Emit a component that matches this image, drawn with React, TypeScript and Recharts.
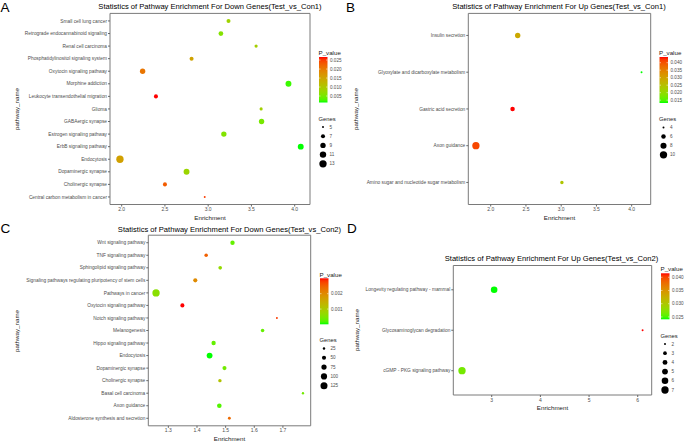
import React from "react";
import {
  ScatterChart,
  Scatter,
  XAxis,
  YAxis,
  ZAxis,
  ReferenceArea,
  Cell,
} from "recharts";

// A: down genes, Test_vs_Con1 (listed top to bottom)
const pathwaysA = [
  "Small cell lung cancer",
  "Retrograde endocannabinoid signaling",
  "Renal cell carcinoma",
  "Phosphatidylinositol signaling system",
  "Oxytocin signaling pathway",
  "Morphine addiction",
  "Leukocyte transendothelial migration",
  "Glioma",
  "GABAergic synapse",
  "Estrogen signaling pathway",
  "ErbB signaling pathway",
  "Endocytosis",
  "Dopaminergic synapse",
  "Cholinergic synapse",
  "Central carbon metabolism in cancer",
];
const enrichA = [3.235, 3.147, 3.554, 2.808, 2.242, 3.928, 2.396, 3.612, 3.617, 3.181, 4.07, 1.98, 2.75, 2.5, 2.96];
const pvalA = [0.0085, 0.006, 0.009, 0.0152, 0.0205, 0.0022, 0.0267, 0.0088, 0.005, 0.0058, 0.0014, 0.0155, 0.008, 0.0228, 0.025];
const genesA = [7, 8, 6, 7, 9, 10, 7, 6, 9, 9, 10, 13, 10, 7, 5];
const xTicksA = [2.0, 2.5, 3.0, 3.5, 4.0];
const pTicksA = [0.005, 0.01, 0.015, 0.02, 0.025];
const geneBreaksA = [5, 7, 9, 11, 13];

// B: up genes, Test_vs_Con1
const pathwaysB = [
  "Insulin secretion",
  "Glyoxylate and dicarboxylate metabolism",
  "Gastric acid secretion",
  "Axon guidance",
  "Amino sugar and nucleotide sugar metabolism",
];
const enrichB = [2.383, 4.14, 2.31, 1.79, 3.01];
const pvalB = [0.029, 0.0131, 0.0438, 0.041, 0.024];
const genesB = [7, 4, 6, 10, 5];
const xTicksB = [2.0, 2.5, 3.0, 3.5, 4.0];
const pTicksB = [0.04, 0.035, 0.03, 0.025, 0.02, 0.015];
const geneBreaksB = [4, 6, 8, 10];

// C: down genes, Test_vs_Con2
const pathwaysC = [
  "Wnt signaling pathway",
  "TNF signaling pathway",
  "Sphingolipid signaling pathway",
  "Signaling pathways regulating pluripotency of stem cells",
  "Pathways in cancer",
  "Oxytocin signaling pathway",
  "Notch signaling pathway",
  "Melanogenesis",
  "Hippo signaling pathway",
  "Endocytosis",
  "Dopaminergic synapse",
  "Cholinergic synapse",
  "Basal cell carcinoma",
  "Axon guidance",
  "Aldosterone synthesis and secretion",
];
const enrichC = [1.524, 1.432, 1.481, 1.394, 1.257, 1.349, 1.679, 1.629, 1.458, 1.444, 1.496, 1.48, 1.77, 1.478, 1.513];
const pvalC = [0.0003, 0.0025, 0.0007, 0.002, 0.0006, 0.003, 0.0028, 0.0003, 0.0003, 0.00001, 0.0004, 0.0011, 0.0004, 0.0002, 0.0024];
const genesC = [55, 40, 42, 50, 135, 50, 20, 40, 55, 90, 50, 38, 24, 60, 30];
const xTicksC = [1.3, 1.4, 1.5, 1.6, 1.7];
const pTicksC = [0.002, 0.001];
const geneBreaksC = [25, 50, 75, 100, 125];

// D: up genes, Test_vs_Con2
const pathwaysD = [
  "Longevity regulating pathway - mammal",
  "Glycosaminoglycan degradation",
  "cGMP - PKG signaling pathway",
];
const enrichD = [3.05, 6.1, 2.39];
const pvalD = [0.0241, 0.0415, 0.0265];
const genesD = [6, 2, 7];
const xTicksD = [3, 4, 5, 6];
const pTicksD = [0.04, 0.035, 0.03, 0.025];
const geneBreaksD = [2, 3, 4, 5, 6, 7];

const FONT = '"Liberation Sans", Arial, sans-serif';
const SIZE_RANGE: [number, number] = [3, 42];

// green -> red gradient interpolated in Lab, like ggplot
const lin = (c: number) => (c <= 0.04045 ? c / 12.92 : Math.pow((c + 0.055) / 1.055, 2.4));
const unlin = (c: number) => {
  const v = c <= 0.0031308 ? 12.92 * c : 1.055 * Math.pow(c, 1 / 2.4) - 0.055;
  return Math.round(Math.max(0, Math.min(1, v)) * 255);
};
const f = (t: number) => (t > 0.008856 ? Math.cbrt(t) : 7.787 * t + 16 / 116);
const finv = (t: number) => (t * t * t > 0.008856 ? t * t * t : (t - 16 / 116) / 7.787);
const toLab = (r: number, g: number, b: number) => {
  const R = lin(r / 255), G = lin(g / 255), B = lin(b / 255);
  const X = (0.4124 * R + 0.3576 * G + 0.1805 * B) / 0.95047;
  const Y = 0.2126 * R + 0.7152 * G + 0.0722 * B;
  const Z = (0.0193 * R + 0.1192 * G + 0.9505 * B) / 1.08883;
  return [116 * f(Y) - 16, 500 * (f(X) - f(Y)), 200 * (f(Y) - f(Z))];
};
const fromLab = ([L, a, b]: number[]) => {
  const fy = (L + 16) / 116;
  const X = finv(fy + a / 500) * 0.95047;
  const Y = finv(fy);
  const Z = finv(fy - b / 200) * 1.08883;
  const r = 3.2406 * X - 1.5372 * Y - 0.4986 * Z;
  const g = -0.9689 * X + 1.8758 * Y + 0.0415 * Z;
  const bl = 0.0557 * X - 0.204 * Y + 1.057 * Z;
  return `rgb(${unlin(r)},${unlin(g)},${unlin(bl)})`;
};
const LOW = toLab(0, 255, 0);
const HIGH = toLab(255, 0, 0);
const gradColor = (t: number) => {
  const k = Math.max(0, Math.min(1, t));
  return fromLab(LOW.map((v, i) => v + (HIGH[i] - v) * k));
};

interface PanelProps {
  left: number;
  top: number;
  width: number;
  height: number;
  margin: { top: number; right: number; bottom: number; left: number };
  yWidth: number;
  names: string[];
  enrich: number[];
  pval: number[];
  genes: number[];
  xDomain: [number, number];
  xTicks: number[];
  digits: number;
}

const Panel: React.FC<PanelProps> = (p) => {
  const n = p.names.length;
  const pMin = Math.min(...p.pval);
  const pMax = Math.max(...p.pval);
  const data = p.names.map((name, i) => ({
    name,
    x: p.enrich[i],
    y: n - i,
    z: p.genes[i],
    p: p.pval[i],
  }));
  const yTicks = p.names.map((_, i) => i + 1);
  // plain text ticks so long pathway names stay on one line
  const renderYTick = (t: any) => (
    <text
      x={t.x}
      y={t.y}
      dy="0.35em"
      textAnchor="end"
      fontSize={4.8}
      fill="#4d4d4d"
    >
      {p.names[n - t.payload.value]}
    </text>
  );
  return (
    <div style={{ position: "absolute", left: p.left, top: p.top }}>
      <ScatterChart width={p.width} height={p.height} margin={p.margin}>
        <XAxis
          type="number"
          dataKey="x"
          domain={p.xDomain}
          ticks={p.xTicks}
          allowDataOverflow
          tickFormatter={(v: number) => v.toFixed(p.digits)}
          tick={{ fontSize: 5, fill: "#4d4d4d" }}
          tickSize={2}
          tickMargin={1}
          axisLine={false}
          tickLine={{ stroke: "#666" }}
          height={12}
          interval={0}
        />
        <YAxis
          type="number"
          dataKey="y"
          domain={[0.4, n + 0.6]}
          ticks={yTicks}
          allowDataOverflow
          tick={renderYTick}
          tickSize={2}
          tickMargin={1}
          axisLine={false}
          tickLine={{ stroke: "#666" }}
          width={p.yWidth}
          interval={0}
        />
        <ZAxis
          type="number"
          dataKey="z"
          domain={[Math.min(...p.genes), Math.max(...p.genes)]}
          range={SIZE_RANGE}
        />
        <ReferenceArea
          x1={p.xDomain[0]}
          x2={p.xDomain[1]}
          y1={0.4}
          y2={n + 0.6}
          fill="none"
          stroke="#7a7a7a"
          strokeWidth={1}
          ifOverflow="visible"
        />
        <Scatter data={data} shape="circle" isAnimationActive={false}>
          {data.map((d) => (
            <Cell key={d.name} fill={gradColor((d.p - pMin) / (pMax - pMin))} />
          ))}
        </Scatter>
      </ScatterChart>
    </div>
  );
};

interface LegendProps {
  id: string;
  x: number;
  titleY: number;
  barTop: number;
  barBottom: number;
  pval: number[];
  pTicks: number[];
  pDigits: number;
  genes: number[];
  breaks: number[];
  genesTitleY: number;
  step: number;
}

const Legend: React.FC<LegendProps> = (l) => {
  const pMin = Math.min(...l.pval);
  const pMax = Math.max(...l.pval);
  const gMin = Math.min(...l.genes);
  const gMax = Math.max(...l.genes);
  const h = l.barBottom - l.barTop;
  const stops = Array.from({ length: 21 }, (_, i) => i / 20);
  const bw = 8.5;
  return (
    <g>
      <defs>
        <linearGradient id={`bar${l.id}`} x1="0" y1="1" x2="0" y2="0">
          {stops.map((s) => (
            <stop key={s} offset={s} stopColor={gradColor(s)} />
          ))}
        </linearGradient>
      </defs>
      <text x={l.x} y={l.titleY} fontSize={6.2} fill="#1a1a1a">
        P_value
      </text>
      <rect x={l.x + 0.5} y={l.barTop} width={bw} height={h} fill={`url(#bar${l.id})`} />
      {l.pTicks.map((t) => {
        const y = l.barTop + ((pMax - t) / (pMax - pMin)) * h;
        return (
          <g key={t}>
            <line x1={l.x + 0.5} x2={l.x + 2} y1={y} y2={y} stroke="#fff" strokeWidth={0.5} />
            <line x1={l.x + bw - 1} x2={l.x + bw + 0.5} y1={y} y2={y} stroke="#fff" strokeWidth={0.5} />
            <text x={l.x + bw + 3} y={y + 1.6} fontSize={4.6} fill="#4d4d4d">
              {t.toFixed(l.pDigits)}
            </text>
          </g>
        );
      })}
      <text x={l.x} y={l.genesTitleY} fontSize={5.8} fill="#1a1a1a">
        Genes
      </text>
      {l.breaks.map((b, i) => {
        const y = l.genesTitleY + 6.5 + i * l.step;
        const area = SIZE_RANGE[0] + ((SIZE_RANGE[1] - SIZE_RANGE[0]) * (b - gMin)) / (gMax - gMin);
        const r = Math.sqrt(Math.max(area, 2) / Math.PI);
        return (
          <g key={b}>
            <circle cx={l.x + 4.5} cy={y} r={r} fill="#000" />
            <text x={l.x + 11} y={y + 1.6} fontSize={4.6} fill="#4d4d4d">
              {b}
            </text>
          </g>
        );
      })}
    </g>
  );
};

export default function App() {
  const titleStyle = { fontSize: 7.6, fill: "#000" };
  const axisStyle = { fontSize: 6.2, fill: "#1a1a1a" };
  return (
    <div
      style={{
        position: "absolute",
        left: 0,
        top: 0,
        width: 685,
        height: 441,
        background: "#fff",
        fontFamily: FONT,
        overflow: "hidden",
      }}
    >
      <Panel
        left={0}
        top={0}
        width={340}
        height={220}
        margin={{ top: 13.4, right: 30, bottom: 3.5, left: 10 }}
        yWidth={100}
        names={pathwaysA}
        enrich={enrichA}
        pval={pvalA}
        genes={genesA}
        xDomain={[1.865, 4.177]}
        xTicks={xTicksA}
        digits={1}
      />
      <Panel
        left={340}
        top={0}
        width={345}
        height={220}
        margin={{ top: 13.4, right: 34.3, bottom: 3.5, left: 10 }}
        yWidth={118.3}
        names={pathwaysB}
        enrich={enrichB}
        pval={pvalB}
        genes={genesB}
        xDomain={[1.682, 4.27]}
        xTicks={xTicksB}
        digits={1}
      />
      <Panel
        left={0}
        top={215}
        width={340}
        height={226}
        margin={{ top: 20.2, right: 29.3, bottom: 3.2, left: 10 }}
        yWidth={138.3}
        names={pathwaysC}
        enrich={enrichC}
        pval={pvalC}
        genes={genesC}
        xDomain={[1.23, 1.797]}
        xTicks={xTicksC}
        digits={1}
      />
      <Panel
        left={340}
        top={215}
        width={345}
        height={226}
        margin={{ top: 50.5, right: 33.3, bottom: 34, left: 10 }}
        yWidth={103.3}
        names={pathwaysD}
        enrich={enrichD}
        pval={pvalD}
        genes={genesD}
        xDomain={[2.211, 6.287]}
        xTicks={xTicksD}
        digits={0}
      />
      <svg
        width={685}
        height={441}
        style={{ position: "absolute", left: 0, top: 0, pointerEvents: "none" }}
      >
        <text x={0.5} y={12.3} fontSize={13.5}>A</text>
        <text x={346} y={12.3} fontSize={13.5}>B</text>
        <text x={0.5} y={233} fontSize={13.5}>C</text>
        <text x={347} y={233} fontSize={13.5}>D</text>

        <text x={210} y={9.3} textAnchor="middle" {...titleStyle}>
          Statistics of Pathway Enrichment For Down Genes(Test_vs_Con1)
        </text>
        <text x={559} y={9.3} textAnchor="middle" {...titleStyle}>
          Statistics of Pathway Enrichment For Up Genes(Test_vs_Con1)
        </text>
        <text x={229.5} y={231.5} textAnchor="middle" {...titleStyle}>
          Statistics of Pathway Enrichment For Down Genes(Test_vs_Con2)
        </text>
        <text x={551.5} y={261} textAnchor="middle" {...titleStyle}>
          Statistics of Pathway Enrichment For Up Genes(Test_vs_Con2)
        </text>

        <text x={210} y={219.5} textAnchor="middle" {...axisStyle}>Enrichment</text>
        <text x={559.5} y={219.5} textAnchor="middle" {...axisStyle}>Enrichment</text>
        <text x={229.5} y={440.5} textAnchor="middle" {...axisStyle}>Enrichment</text>
        <text x={552.5} y={410} textAnchor="middle" {...axisStyle}>Enrichment</text>

        <text transform="translate(18.5,109) rotate(-90)" textAnchor="middle" {...axisStyle}>pathway_name</text>
        <text transform="translate(358,109) rotate(-90)" textAnchor="middle" {...axisStyle}>pathway_name</text>
        <text transform="translate(18.5,331) rotate(-90)" textAnchor="middle" {...axisStyle}>pathway_name</text>
        <text transform="translate(358.5,330) rotate(-90)" textAnchor="middle" {...axisStyle}>pathway_name</text>

        <Legend id="A" x={318.5} titleY={55} barTop={57} barBottom={102.5} pval={pvalA} pTicks={pTicksA} pDigits={3}
          genes={genesA} breaks={geneBreaksA} genesTitleY={120.5} step={9.2} />
        <Legend id="B" x={659} titleY={55} barTop={57} barBottom={103} pval={pvalB} pTicks={pTicksB} pDigits={3}
          genes={genesB} breaks={geneBreaksB} genesTitleY={121} step={9.1} />
        <Legend id="C" x={319.5} titleY={276.5} barTop={278.3} barBottom={324.3} pval={pvalC} pTicks={pTicksC} pDigits={3}
          genes={genesC} breaks={geneBreaksC} genesTitleY={342} step={9.3} />
        <Legend id="D" x={660.5} titleY={271} barTop={273.3} barBottom={319.3} pval={pvalD} pTicks={pTicksD} pDigits={3}
          genes={genesD} breaks={geneBreaksD} genesTitleY={337.5} step={9.2} />
      </svg>
    </div>
  );
}
